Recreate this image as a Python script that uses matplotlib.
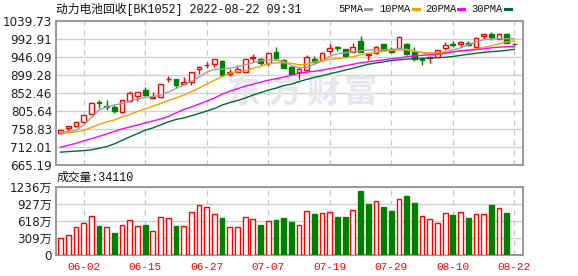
import matplotlib
matplotlib.use('Agg')
import matplotlib.pyplot as plt
from matplotlib.patches import Rectangle

# ---------------- data ----------------
dates = ['05-30', '05-31', '06-01', '06-02', '06-06', '06-07', '06-08', '06-09', '06-10', '06-13',
         '06-14', '06-15', '06-16', '06-17', '06-20', '06-21', '06-22', '06-23', '06-24', '06-27',
         '06-28', '06-29', '06-30', '07-01', '07-04', '07-05', '07-06', '07-07', '07-08', '07-11',
         '07-12', '07-13', '07-14', '07-15', '07-18', '07-19', '07-20', '07-21', '07-22', '07-25',
         '07-26', '07-27', '07-28', '07-29', '08-01', '08-02', '08-03', '08-04', '08-05', '08-08',
         '08-09', '08-10', '08-11', '08-12', '08-15', '08-16', '08-17', '08-18', '08-19', '08-22']
tick_dates = ['06-02', '06-15', '06-27', '07-07', '07-19', '07-29', '08-10', '08-22']

opens = [749, 761, 766, 776, 798, 828, 819, 817, 802, 831, 844, 860, 840, 841, 888, 888, 877, 882, 914, 924,
         928, 936, 903, 906, 907, 943, 940, 931, 960, 937, 919, 906, 912, 940, 938, 962, 973, 966, 960, 989,
         952, 956, 979, 966, 969, 981, 960, 941, 943, 947, 969, 980, 979, 982, 973, 1000, 1007, 994, 1005, 980]
closes = [755, 766, 777, 795, 826, 826, 817, 806, 834, 852, 854, 846, 843, 875, 890, 874, 880, 906, 919, 926,
          940, 900, 906, 914, 940, 945, 930, 956, 943, 918, 903, 914, 945, 932, 956, 970, 969, 949, 973, 960,
          955, 973, 964, 958, 999, 954, 940, 939, 947, 964, 977, 978, 986, 977, 996, 1007, 999, 1007, 983, 979]
highs = [756, 767, 778, 796, 830, 833, 834, 821, 835, 857, 855, 868, 855, 876, 897, 890, 893, 907, 923, 933,
         941, 938, 915, 925, 941, 954, 943, 957, 971, 942, 923, 920, 950, 948, 960, 981, 974, 967, 983, 1000,
         956, 976, 980, 971, 1000, 982, 973, 947, 948, 965, 986, 988, 987, 989, 997, 1007, 1011, 1008, 1008, 980]
lows = [746, 751, 765, 774, 797, 814, 809, 801, 801, 830, 831, 845, 839, 840, 882, 865, 876, 873, 901, 917,
        920, 899, 897, 904, 906, 932, 925, 922, 942, 917, 902, 888, 910, 930, 935, 954, 961, 947, 958, 958,
        938, 954, 963, 956, 967, 952, 935, 925, 931, 945, 964, 973, 973, 976, 971, 994, 990, 993, 982, 978]

ma5 = [750.0, 752.6, 755.2, 769.4, 787.5, 808.2, 816.0, 821.2, 825.0, 831.5, 836.7, 840.5, 843.1, 847.0, 854.8,
       863.8, 872.9, 883.2, 893.6, 906.5, 914.2, 914.2, 916.8, 920.7, 925.9, 931.1, 936.2, 938.8, 937.5, 935.0,
       924.6, 918.2, 919.4, 927.2, 935.0, 947.9, 954.4, 957.0, 959.5, 962.1, 964.2, 964.2, 964.7, 965.2, 967.3,
       966.0, 962.1, 957.5, 953.1, 954.4, 959.5, 964.7, 969.9, 977.6, 985.4, 990.6, 993.2, 993.7, 993.7, 993.7]
ma10 = [746.1, 748.7, 751.3, 755.2, 762.9, 770.7, 777.2, 782.3, 790.1, 796.5, 804.3, 810.8, 818.5, 825.0, 832.8,
        839.2, 847.0, 856.0, 865.1, 875.5, 885.8, 894.9, 903.9, 907.8, 910.4, 916.8, 922.0, 928.5, 931.1, 931.1,
        929.8, 925.9, 927.2, 933.7, 936.2, 940.1, 941.9, 944.0, 946.6, 951.8, 955.6, 958.2, 960.8, 963.4, 964.7,
        964.7, 960.8, 958.2, 957.0, 957.0, 958.2, 959.5, 962.1, 964.7, 967.3, 971.2, 975.1, 980.2, 985.4, 987.5]
ma20 = [711.2, 716.4, 721.5, 728.0, 733.2, 739.6, 746.1, 752.6, 759.0, 764.2, 769.4, 774.6, 779.7, 784.9, 791.4,
        800.4, 809.5, 816.0, 823.7, 831.5, 839.2, 849.6, 857.3, 863.8, 870.3, 875.5, 880.6, 885.8, 889.7, 893.6,
        898.7, 903.9, 906.5, 909.1, 911.7, 915.5, 919.4, 923.3, 927.2, 931.1, 933.7, 936.2, 938.8, 941.4, 943.5,
        946.6, 949.2, 950.5, 951.8, 953.1, 955.6, 959.5, 962.1, 963.4, 965.2, 967.3, 969.9, 971.7, 973.0, 973.0]
ma30 = [698.7, 700.0, 701.4, 702.6, 704.7, 708.6, 713.2, 720.2, 729.3, 738.3, 746.9, 755.7, 761.6, 769.4, 777.2,
        783.6, 787.5, 793.2, 799.1, 805.6, 812.0, 821.1, 827.6, 832.8, 839.2, 847.0, 853.5, 859.9, 865.1, 871.6,
        875.5, 881.9, 887.9, 893.0, 897.4, 902.6, 907.0, 912.2, 916.8, 922.0, 927.2, 930.5, 933.6, 936.8, 938.8,
        940.6, 941.4, 942.4, 943.2, 944.5, 945.3, 947.4, 950.5, 953.1, 955.6, 958.2, 960.0, 961.3, 963.4, 966.0]

volumes = [302, 356, 501, 574, 700, 525, 501, 398, 537, 628, 519, 543, 429, 682, 664, 525, 519, 773, 900, 863,
           737, 664, 501, 501, 682, 646, 543, 610, 628, 664, 597, 537, 790, 742, 754, 772, 688, 688, 808, 1158,
           923, 971, 869, 796, 1007, 1068, 941, 700, 646, 579, 760, 724, 772, 670, 736, 736, 905, 845, 760, 3.41]
vol_up = [1, 1, 1, 1, 1, 0, 1, 0, 1, 1, 1, 0, 1, 1, 1, 0, 1, 1, 1, 1,
          1, 0, 1, 1, 1, 1, 0, 1, 0, 0, 0, 1, 1, 0, 1, 1, 0, 0, 1, 0,
          0, 1, 0, 0, 1, 0, 0, 1, 1, 1, 1, 0, 1, 0, 1, 1, 0, 1, 0, 0]

price_ticks = [665.19, 712.01, 758.83, 805.64, 852.46, 899.28, 946.09, 992.91, 1039.73]
vol_ticks = [0, 309, 618, 927, 1236]
vol_tick_labels = ['0', '309万', '618万', '927万', '1236万']
ma_names = ['5PMA', '10PMA', '20PMA', '30PMA']
title = '动力电池回收[BK1052] 2022-08-22 09:31'
vol_title = '成交量:34110'
watermark = '东方财富'

# ---------------- style ----------------
RED = '#ff0000'
GREEN = '#008000'
MA_COLORS = ['#a0a0a0', '#f5a000', '#ff00ff', '#006a33']
FRAME = '#999999'
GRID = '#d0d0d0'
LBL = '#1e1e28'
MONO = ['Liberation Mono', 'Noto Sans CJK SC']
SANS = ['DejaVu Sans', 'Noto Sans CJK SC']

W, H = 578, 276
fig = plt.figure(figsize=(W / 100, H / 100), dpi=100)


def fx(px):
    return px / W


def fy(py):
    return 1 - py / H


L, R = 55.5, 522.5
ax = fig.add_axes([fx(L), fy(165), (R - L) / W, (165 - 21) / H])
axv = fig.add_axes([fx(L), fy(255), (R - L) / W, (255 - 186.7) / H])

n = len(dates)
xs = list(range(n))
xlim = (-0.65, 60.05)
tick_pos = [dates.index(d) for d in tick_dates]

for a in (ax, axv):
    a.set_xlim(*xlim)
    a.set_axisbelow(True)
    for s in a.spines.values():
        s.set_color(FRAME)
        s.set_linewidth(1.4)
    a.tick_params(length=0, pad=2.5)
    a.yaxis.grid(True, color=GRID, lw=1.0, ls='-')
    for p in tick_pos:
        a.axvline(p, color='#c4c4c4', lw=0.9, ls=(0, (4, 4)), zorder=0.5)

# main panel
ax.set_ylim(price_ticks[0], price_ticks[-1])
ax.set_yticks(price_ticks)
ax.set_yticklabels([f'{v:.2f}' for v in price_ticks], fontsize=8.6, color=LBL, family=SANS)
ax.set_xticks([])

# watermark
wm_x = [242.5, 285.8, 322.5, 360.0]
for ch, px in zip(watermark, wm_x):
    ax.text(fx(px), fy(93), ch, transform=fig.transFigure, ha='center', va='center',
            fontsize=24, fontweight='bold', color='#e6e6ec', family=['Noto Sans CJK SC'], zorder=0.6)

bw = 0.62
for i in xs:
    o, c, h, l = opens[i], closes[i], highs[i], lows[i]
    up = c >= o
    col = RED if up else GREEN
    ax.vlines(i, l, h, color=col, lw=1.0, zorder=2)
    bot = min(o, c)
    ht = max(abs(c - o), 0.8)
    ax.add_patch(Rectangle((i - bw / 2, bot), bw, ht,
                           facecolor='white' if up else GREEN, edgecolor=col, lw=1.0, zorder=3))

for vals, colr in zip([ma5, ma10, ma20, ma30], MA_COLORS):
    ax.plot(xs, vals, color=colr, lw=1.0, zorder=4)

# volume panel
axv.set_ylim(0, vol_ticks[-1])
axv.set_yticks(vol_ticks)
axv.set_yticklabels(vol_tick_labels, fontsize=8.6, color=LBL, family=SANS)
axv.set_xticks(tick_pos)
axv.set_xticklabels(tick_dates, fontsize=8.0, color=RED, family=MONO)
axv.tick_params(axis='x', pad=5)
for i in xs:
    up = vol_up[i] == 1
    axv.add_patch(Rectangle((i - bw / 2, 0), bw, volumes[i],
                            facecolor='white' if up else GREEN,
                            edgecolor=RED if up else GREEN, lw=1.0, zorder=3))

# texts
fig.text(fx(55.5), fy(9), title, fontsize=8.5, family=MONO, color='#111111', ha='left', va='center')
fig.text(fx(56.5), fy(177.5), vol_title, fontsize=8.5, family=MONO, color='#111111', ha='left', va='center')

leg_text_x = [338.3, 379.3, 425.0, 471.7]
leg_line_x = [365.0, 412.7, 458.3, 505.0]
for name, tx, lx, colr in zip(ma_names, leg_text_x, leg_line_x, MA_COLORS):
    fig.text(fx(tx), fy(8.5), name, fontsize=7.6, family=MONO, color='#111111', ha='left', va='center')
    fig.add_artist(plt.Line2D([fx(lx), fx(lx + 6)], [fy(8.5), fy(8.5)], color=colr, lw=2.2,
                              transform=fig.transFigure))

fig.savefig('out.png', dpi=100)
